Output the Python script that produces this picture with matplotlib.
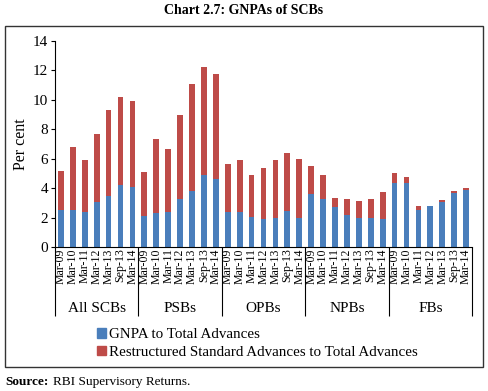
import numpy as np
import matplotlib
matplotlib.use('Agg')
import matplotlib.pyplot as plt
from matplotlib.patches import Rectangle, Patch
from matplotlib.transforms import blended_transform_factory

plt.rcParams['font.family'] = ['Liberation Serif', 'DejaVu Serif']

# data (per cent)
groups = ['All SCBs', 'PSBs', 'OPBs', 'NPBs', 'FBs']
periods = ['Mar-09', 'Mar-10', 'Mar-11', 'Mar-12', 'Mar-13', 'Sep-13', 'Mar-14']

gnpa = [2.52, 2.52, 2.40, 3.03, 3.48, 4.22, 4.09,
        2.09, 2.31, 2.40, 3.26, 3.82, 4.88, 4.65,
        2.40, 2.40, 2.02, 1.91, 1.96, 2.47, 1.96,
        3.60, 3.26, 2.70, 2.20, 1.96, 1.96, 1.91,
        4.38, 4.34, 2.54, 2.76, 3.03, 3.64, 3.87]
total = [5.17, 6.81, 5.89, 7.69, 9.28, 10.18, 9.89,
         5.10, 7.35, 6.63, 8.94, 11.08, 12.22, 11.75,
         5.64, 5.91, 4.92, 5.39, 5.93, 6.38, 5.96,
         5.51, 4.90, 3.30, 3.26, 3.15, 3.24, 3.71,
         5.06, 4.76, 2.81, 2.81, 3.19, 3.80, 3.98]
restructured = [t - g for t, g in zip(total, gnpa)]

blue = '#4a7ebb'
red = '#be4b48'

W, H = 488, 391
fig = plt.figure(figsize=(W / 100, H / 100), dpi=100)

def fx(px):
    return px / W

def fy(py):
    return 1 - py / H

ax = fig.add_axes([fx(55), fy(247), fx(472) - fx(55), fy(41) - fy(247)])

n = len(groups) * len(periods)
x = np.arange(n) + 0.5
ax.bar(x, gnpa, width=0.48, color=blue, label='GNPA to Total Advances')
ax.bar(x, restructured, bottom=gnpa, width=0.48, color=red,
       label='Restructured Standard Advances to Total Advances')

ax.set_xlim(0, n)
ax.set_ylim(0, 14)
ax.set_yticks(np.arange(0, 15, 2))
ax.tick_params(axis='y', labelsize=11, length=3, pad=2)
ax.set_ylabel('Per cent', fontsize=11.5, labelpad=3)

for s in ['top', 'right']:
    ax.spines[s].set_visible(False)
ax.spines['left'].set_linewidth(0.8)
ax.spines['bottom'].set_linewidth(0.8)

# month labels on minor ticks, group separators as long major ticks
ax.set_xticks(x, minor=True)
ax.set_xticklabels(periods * len(groups), minor=True, rotation=90, fontsize=8.6)
ax.tick_params(axis='x', which='minor', length=0, pad=1)
ax.set_xticks(np.arange(0, n + 1, len(periods)))
ax.set_xticklabels([''] * (len(groups) + 1))
ax.tick_params(axis='x', which='major', length=50, width=0.8)

trans = blended_transform_factory(ax.transData, fig.transFigure)
for i, g in enumerate(groups):
    ax.text(i * len(periods) + len(periods) / 2, fy(309), g, transform=trans,
            ha='center', va='center', fontsize=11)

handles = [Patch(color=blue), Patch(color=red)]
fig.legend(handles, ['GNPA to Total Advances',
                     'Restructured Standard Advances to Total Advances'],
           loc='upper left', bbox_to_anchor=(fx(97), fy(328)), frameon=False,
           fontsize=10.8, handlelength=0.6, handleheight=0.6, handletextpad=0.2,
           labelspacing=0.3, borderpad=0, borderaxespad=0)

fig.patches.append(Rectangle((fx(5), fy(367)), fx(483) - fx(5), fy(26) - fy(367),
                             transform=fig.transFigure, fill=False,
                             edgecolor='#333333', linewidth=1))

fig.text(0.5, fy(10), 'Chart 2.7: GNPAs of SCBs', ha='center', va='center',
         fontsize=10, fontweight='bold')
fig.text(fx(5), fy(382), 'Source:', ha='left', va='center', fontsize=9.5,
         fontweight='bold')
fig.text(fx(53), fy(382), 'RBI Supervisory Returns.', ha='left', va='center',
         fontsize=9.5)

fig.savefig('out.png', dpi=100)
